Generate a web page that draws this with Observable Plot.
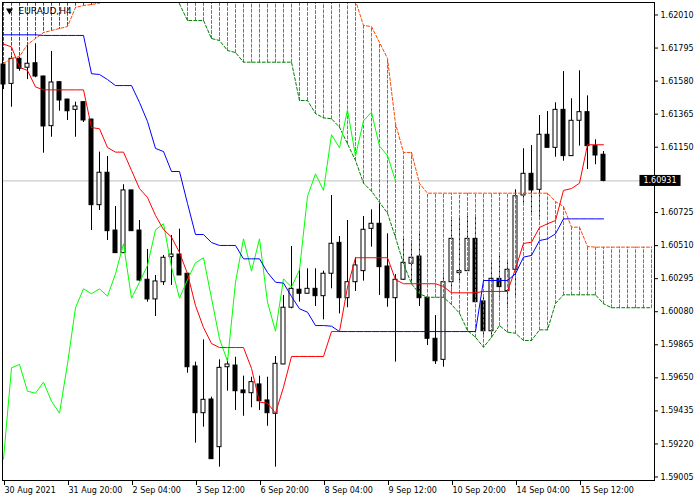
<!DOCTYPE html>
<html><head><meta charset="utf-8">
<script src="https://cdn.jsdelivr.net/npm/d3@7"></script>
<script src="https://cdn.jsdelivr.net/npm/@observablehq/plot@0.6"></script>
<style>
html,body{margin:0;padding:0;background:#fff;}
svg{display:block;}
</style>
</head><body>
<div id="chart"></div>
<script>
const symbolTitle = "EURAUD,H4";
const timeLabels = ["30 Aug 2021","31 Aug 20:00","2 Sep 04:00","3 Sep 12:00","6 Sep 20:00","8 Sep 04:00","9 Sep 12:00","10 Sep 20:00","14 Sep 04:00","15 Sep 12:00"];
const timeTickIndex = [0,8,16,24,32,40,48,56,64,72];
const priceTicks = [1.62010,1.61795,1.61580,1.61365,1.61150,1.60725,1.60510,1.60295,1.60080,1.59865,1.59650,1.59435,1.59220,1.59005];
const currentPrice = 1.60931;
const chikouShift = 26;

const opens = [1.61688,1.61562,1.61725,1.61667,1.61696,1.61610,1.61287,1.61573,1.61460,1.61393,
1.61443,1.61330,1.60773,1.60984,1.60608,1.60461,1.60869,1.60608,1.60288,1.60160,
1.60272,1.60435,1.60452,1.60327,1.59724,1.59420,1.59509,1.59199,1.59719,1.59730,
1.59568,1.59550,1.59607,1.59503,1.59416,1.59737,1.60106,1.60223,1.60197,1.60229,
1.60181,1.60327,1.60528,1.60168,1.60272,1.60344,1.60619,1.60652,1.60374,1.60168,
1.60288,1.60392,1.60439,1.60171,1.59904,1.59767,1.60272,1.60331,1.60344,1.60554,
1.60147,1.59953,1.60294,1.60214,1.60353,1.60836,1.60977,1.60873,1.61231,1.61146,
1.61393,1.61092,1.61322,1.61378,1.61157,1.61101];
const highs = [1.61701,1.61740,1.61734,1.61823,1.61823,1.61612,1.61773,1.61575,1.61462,1.61443,
1.61445,1.61332,1.61118,1.61090,1.60764,1.60906,1.60870,1.60673,1.60485,1.60316,
1.60446,1.60576,1.60617,1.60329,1.59752,1.59897,1.59524,1.59767,1.59774,1.59784,
1.59661,1.59654,1.59661,1.59654,1.59789,1.60186,1.60504,1.60359,1.60359,1.60359,
1.60344,1.60836,1.60569,1.60673,1.60431,1.60699,1.60743,1.60782,1.60587,1.60322,
1.60556,1.60543,1.60589,1.60173,1.60055,1.60327,1.60673,1.60699,1.60699,1.60699,
1.60186,1.60398,1.60461,1.60402,1.60873,1.61140,1.61161,1.61356,1.61382,1.61439,
1.61642,1.61465,1.61647,1.61484,1.61198,1.61122];
const lows = [1.61525,1.61410,1.61644,1.61590,1.61602,1.61111,1.61215,1.61384,1.61324,1.61215,
1.61311,1.60608,1.60738,1.60543,1.60459,1.60459,1.60602,1.60277,1.60142,1.60049,
1.60251,1.60251,1.60315,1.59680,1.59225,1.59329,1.59120,1.59069,1.59563,1.59438,
1.59400,1.59455,1.59438,1.59335,1.59069,1.59735,1.60099,1.60142,1.60195,1.60114,
1.60027,1.60229,1.60066,1.60106,1.60212,1.60279,1.60500,1.60186,1.60109,1.59752,
1.60283,1.60262,1.60114,1.59860,1.59737,1.59719,1.60214,1.60283,1.60342,1.60140,
1.59912,1.59910,1.60174,1.60099,1.60186,1.60782,1.60719,1.60695,1.61145,1.61085,
1.61059,1.61090,1.61157,1.61005,1.61036,1.60925];
const closes = [1.61558,1.61725,1.61660,1.61693,1.61610,1.61285,1.61571,1.61454,1.61384,1.61415,
1.61324,1.60773,1.60984,1.60604,1.60461,1.60869,1.60604,1.60283,1.60160,1.60277,
1.60431,1.60452,1.60316,1.59719,1.59420,1.59507,1.59121,1.59715,1.59737,1.59563,
1.59550,1.59622,1.59498,1.59420,1.59741,1.60106,1.60229,1.60197,1.60229,1.60181,
1.60327,1.60522,1.60168,1.60272,1.60381,1.60613,1.60652,1.60370,1.60168,1.60288,
1.60398,1.60431,1.60168,1.59904,1.59758,1.60272,1.60554,1.60344,1.60554,1.60142,
1.59953,1.60294,1.60240,1.60353,1.60831,1.60977,1.60869,1.61231,1.61146,1.61393,
1.61092,1.61322,1.61378,1.61157,1.61096,1.60931];

const tenkan = [1.61821,1.61802,1.61670,1.61649,1.61542,1.61523,1.61523,1.61523,1.61523,1.61523,
1.61523,1.61278,1.61270,1.61148,1.61118,1.61118,1.60999,1.60881,1.60823,1.60706,
1.60615,1.60565,1.60465,1.60327,1.60120,1.59977,1.59873,1.59847,1.59847,1.59847,
1.59847,1.59711,1.59492,1.59485,1.59420,1.59589,1.59789,1.59789,1.59789,1.59789,
1.59789,1.59951,1.59951,1.60240,1.60431,1.60431,1.60431,1.60431,1.60431,1.60288,
1.60262,1.60262,1.60262,1.60262,1.60262,1.60244,1.60203,1.60203,1.60203,1.60203,
1.60212,1.60212,1.60212,1.60212,1.60359,1.60524,1.60532,1.60628,1.60652,1.60673,
1.60869,1.60881,1.60916,1.61166,1.61166,1.61166];
const kijun = [1.61881,1.61881,1.61881,1.61881,1.61881,1.61877,1.61877,1.61877,1.61877,1.61877,
1.61877,1.61628,1.61623,1.61590,1.61551,1.61551,1.61551,1.61441,1.61317,1.61142,
1.61122,1.60992,1.60992,1.60784,1.60582,1.60582,1.60530,1.60511,1.60511,1.60511,
1.60424,1.60424,1.60424,1.60335,1.60272,1.60266,1.60179,1.60099,1.60077,1.59990,
1.59990,1.59986,1.59951,1.59951,1.59951,1.59951,1.59951,1.59951,1.59951,1.59951,
1.59951,1.59951,1.59951,1.59951,1.59951,1.59951,1.59951,1.59951,1.59951,1.59951,
1.60283,1.60283,1.60283,1.60283,1.60327,1.60435,1.60446,1.60543,1.60554,1.60587,
1.60684,1.60684,1.60684,1.60684,1.60684,1.60684];
const senkouA = [1.61695,1.61727,1.61740,1.61818,1.61857,1.61896,1.61909,1.61922,1.61935,1.62059,
1.62072,1.62078,1.62088,1.6217,1.6225,1.6225,1.6225,1.6225,1.6225,1.6225,
1.6225,1.6225,1.6225,1.6225,1.6225,1.6225,1.6225,1.6225,1.6225,1.6225,
1.6225,1.6225,1.6225,1.6225,1.6225,1.6225,1.6225,1.6225,1.6225,1.6225,
1.6225,1.6225,1.6225,1.6227,1.62104,1.61942,1.61935,1.61831,1.61727,1.61304,
1.61116,1.61116,1.60914,1.60851,1.60851,1.60851,1.60851,1.60851,1.60851,1.60851,
1.60851,1.60851,1.60851,1.60851,1.60851,1.60851,1.60851,1.60851,1.60851,1.60797,
1.60764,1.60630,1.60630,1.60504,1.60500,1.60500,1.60500,1.60500,1.60500,1.60500,
1.60500,1.60500];
const senkouB = [1.6232,1.6232,1.6232,1.6232,1.6232,1.6232,1.6232,1.6232,1.6232,1.6232,
1.6232,1.6232,1.6232,1.6232,1.6232,1.6232,1.6232,1.6232,1.6232,1.6232,
1.6232,1.6216,1.62082,1.61974,1.61974,1.61974,1.61857,1.61844,1.61779,1.61766,
1.61703,1.61703,1.61703,1.61703,1.61703,1.61703,1.61703,1.61454,1.61454,1.61369,
1.61341,1.61335,1.61280,1.61172,1.61064,1.60916,1.60864,1.60792,1.60721,1.60563,
1.60392,1.60262,1.60197,1.60174,1.60174,1.60174,1.60127,1.60070,1.59958,1.59914,
1.59849,1.59914,1.59990,1.59947,1.59940,1.59893,1.59893,1.59962,1.59962,1.60134,
1.60190,1.60190,1.60190,1.60190,1.60190,1.60132,1.60106,1.60106,1.60106,1.60106,
1.60106,1.60106];

const candles = opens.map((o, i) => ({i, open: o, high: highs[i], low: lows[i], close: closes[i]}));
const upCandles = candles.filter(d => d.close >= d.open);
const downCandles = candles.filter(d => d.close < d.open);
const tenkanData = tenkan.map((v, i) => ({i, v}));
const kijunData = kijun.map((v, i) => ({i, v}));
const chikouData = closes.slice(chikouShift).map((v, i) => ({i, v}));
const cloud = senkouA.map((a, i) => ({i, a, b: senkouB[i]}));
// vertical hatch segments of the cloud: one two-point segment per bar (from span B to span A)
const hatch = cloud.flatMap(d => [{i: d.i, p: d.b, up: d.a >= d.b}, {i: d.i, p: d.a, up: d.a >= d.b}]);
const hatchUp = hatch.filter(d => d.up);
const hatchDown = hatch.filter(d => !d.up);

const ORANGE = "#ff4500", GREEN = "#008000";
const fmt = d3.format(".5f");

const chart = Plot.plot({
  width: 700, height: 500,
  marginLeft: 2, marginRight: 46, marginTop: 2, marginBottom: 20,
  style: {fontFamily: "'DejaVu Sans', sans-serif", fontSize: "8px", color: "#000", background: "#fff", overflow: "visible"},
  x: {type: "linear", domain: [-0.125, 81.375]},
  y: {type: "linear", domain: [1.589822, 1.620913]},
  marks: [
    Plot.ruleY([currentPrice], {stroke: "#c0c0c0"}),
    Plot.ruleX(candles, {x: "i", y1: "low", y2: "high", stroke: "#000"}),
    Plot.rect(upCandles, {x1: d => d.i - 0.25, x2: d => d.i + 0.25, y1: "open", y2: "close", fill: "#fff", stroke: "#000"}),
    Plot.rect(downCandles, {x1: d => d.i - 0.25, x2: d => d.i + 0.25, y1: "open", y2: "close", fill: "#000", stroke: "#000"}),
    Plot.line(hatchUp, {x: "i", y: "p", z: "i", stroke: ORANGE, strokeWidth: 1, strokeDasharray: "3,2", clip: true}),
    Plot.line(hatchDown, {x: "i", y: "p", z: "i", stroke: GREEN, strokeWidth: 1, strokeDasharray: "3,2", clip: true}),
    Plot.line(cloud, {x: "i", y: "a", stroke: ORANGE, strokeWidth: 1, strokeDasharray: "3,2", clip: true}),
    Plot.line(cloud, {x: "i", y: "b", stroke: GREEN, strokeWidth: 1, strokeDasharray: "3,2", clip: true}),
    Plot.line(chikouData, {x: "i", y: "v", stroke: "#00ff00", strokeWidth: 1, clip: true}),
    Plot.line(tenkanData, {x: "i", y: "v", stroke: "#ff0000", strokeWidth: 1, clip: true}),
    Plot.line(kijunData, {x: "i", y: "v", stroke: "#0000ff", strokeWidth: 1, clip: true}),
    Plot.frame({stroke: "#000"}),
    Plot.axisX({ticks: timeTickIndex, tickFormat: d => timeLabels[timeTickIndex.indexOf(d)], tickSize: 5, tickPadding: 2, textAnchor: "start", dx: 1, label: null, fontSize: 8}),
    Plot.axisY({anchor: "right", ticks: priceTicks, tickFormat: fmt, tickSize: 3, tickPadding: 3, label: null, fontSize: 8}),
    Plot.dot([symbolTitle], {frameAnchor: "top-left", dx: 7, dy: 8, symbol: "triangle", rotate: 180, r: 2.6, fill: "#000", stroke: null}),
    Plot.text([symbolTitle], {frameAnchor: "top-left", dx: 16, dy: 5, text: d => d, textAnchor: "start", lineAnchor: "top", fontSize: 9, fill: "#000"})
  ]
});
document.getElementById("chart").appendChild(chart);

// current-price label in a black box on the price scale, positioned with Plot's scales
const yS = chart.scale("y");
const xS = chart.scale("x");
const yc = yS.apply(currentPrice);
const xr = Math.max(...xS.range);
const g = d3.select(chart).append("g")
  .attr("font-family", "'DejaVu Sans', sans-serif").attr("font-size", 8);
const txt = g.append("text")
  .attr("x", xr + 6).attr("y", yc).attr("dy", "0.32em")
  .attr("fill", "#fff").text(fmt(currentPrice));
const bb = txt.node().getBBox();
g.insert("rect", "text")
  .attr("x", bb.x - 4).attr("y", bb.y - 1)
  .attr("width", bb.width + 8).attr("height", bb.height + 2)
  .attr("fill", "#000");
</script>
</body></html>
